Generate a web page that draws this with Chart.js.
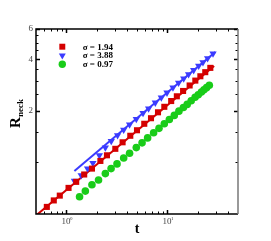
<!DOCTYPE html>
<html>
<head>
<meta charset="utf-8">
<script src="https://cdn.jsdelivr.net/npm/chart.js@4.4.1/dist/chart.umd.min.js"></script>
<style>
  html, body { margin: 0; padding: 0; background: #fff; }
  #c { display: block; }
</style>
</head>
<body>
<canvas id="c" width="271" height="241"></canvas>
<script>
// sigma = 1.94 (red squares)
const tRed = [0.64, 0.75, 0.86, 1.05, 1.25, 1.5, 1.79, 2.17, 2.52, 3.05, 3.6, 4.29, 5.0, 5.9, 6.88, 8.07, 9.32, 10.9, 12.4, 14.3, 16.6, 18.9, 21.2, 23.7, 26.6];
const rRed = [0.55, 0.6, 0.64, 0.71, 0.77, 0.85, 0.92, 1.02, 1.1, 1.2, 1.31, 1.43, 1.54, 1.68, 1.81, 1.96, 2.11, 2.28, 2.43, 2.61, 2.81, 3.0, 3.18, 3.36, 3.56];
// sigma = 3.88 (blue triangles)
const tBlue = [1.2, 1.4, 1.62, 1.83, 2.12, 2.43, 2.78, 3.21, 3.69, 4.22, 4.92, 5.74, 6.51, 7.59, 8.7, 9.91, 11.35, 12.9, 14.5, 16.2, 18.2, 20.4, 22.5, 25.0, 28.3];
const rBlue = [0.78, 0.84, 0.92, 0.99, 1.1, 1.22, 1.33, 1.44, 1.55, 1.66, 1.79, 1.94, 2.06, 2.23, 2.39, 2.55, 2.73, 2.91, 3.08, 3.26, 3.45, 3.66, 3.84, 4.05, 4.31];
// sigma = 0.97 (green circles)
const tGreen = [1.35, 1.54, 1.79, 2.08, 2.43, 2.77, 3.17, 3.69, 4.22, 4.92, 5.61, 6.37, 7.3, 8.26, 9.32, 10.45, 11.7, 13.0, 14.4, 15.7, 17.2, 18.8, 20.2, 21.7, 23.0, 24.4, 26.0];
const rGreen = [0.63, 0.68, 0.74, 0.79, 0.86, 0.92, 0.98, 1.06, 1.13, 1.22, 1.3, 1.39, 1.49, 1.58, 1.68, 1.78, 1.88, 1.99, 2.09, 2.18, 2.29, 2.4, 2.48, 2.57, 2.65, 2.73, 2.82];
// fitted power-law lines
const fitRedT = [0.5, 29];
const fitRedR = [0.49, 3.65];
const fitBlueT = [1.2, 29.8];
const fitBlueR = [0.89, 4.41];

const legendLabels = ['σ = 1.94', 'σ = 3.88', 'σ = 0.97'];
const xMajorTicks = [1, 10];
const xMinorTicks = [0.6, 0.7, 0.8, 0.9, 2, 3, 4, 5, 6, 7, 8, 9, 20, 30, 40];
const yMajorTicks = [2, 4, 6];
const yMinorTicks = [1, 1.5, 2.5, 3, 3.5, 4.5, 5, 5.5];

const RED = '#d40000', BLUE = '#3b3bff', GREEN = '#19cc19';
const SERIF = '"Liberation Serif", "DejaVu Serif", serif';

const pts = (xs, ys) => xs.map((x, i) => ({ x: x, y: ys[i] }));

function marker(ctx, style, x, y, r) {
  ctx.beginPath();
  if (style === 'rect') {
    ctx.rect(x - r * 0.71, y - r * 0.71, r * 1.42, r * 1.42);
  } else if (style === 'tri') {
    ctx.moveTo(x - r * 0.87, y - r * 0.5);
    ctx.lineTo(x + r * 0.87, y - r * 0.5);
    ctx.lineTo(x, y + r);
    ctx.closePath();
  } else {
    ctx.arc(x, y, r, 0, Math.PI * 2);
  }
  ctx.fill();
}

const frame = {
  id: 'frame',
  afterDraw(chart) {
    const ctx = chart.ctx, a = chart.chartArea;
    const xs = chart.scales.x, ys = chart.scales.y;
    ctx.save();

    // tick marks, pointing inward on all four sides
    ctx.strokeStyle = '#000';
    ctx.lineWidth = 1;
    const xt = (list, len) => list.forEach(v => {
      const p = Math.round(xs.getPixelForValue(v)) + 0.5;
      ctx.beginPath();
      ctx.moveTo(p, a.bottom); ctx.lineTo(p, a.bottom - len);
      ctx.moveTo(p, a.top); ctx.lineTo(p, a.top + len);
      ctx.stroke();
    });
    const yt = (list, len) => list.forEach(v => {
      const p = Math.round(ys.getPixelForValue(v)) + 0.5;
      ctx.beginPath();
      ctx.moveTo(a.left, p); ctx.lineTo(a.left + len, p);
      ctx.moveTo(a.right, p); ctx.lineTo(a.right - len, p);
      ctx.stroke();
    });
    xt(xMinorTicks, 2.5); yt(yMinorTicks, 2.5);
    ctx.lineWidth = 1.5;
    xt(xMajorTicks, 4); yt(yMajorTicks, 4);

    // frame
    ctx.lineWidth = 1.5;
    ctx.strokeStyle = '#000';
    ctx.beginPath();
    ctx.moveTo(a.right, a.top); ctx.lineTo(a.left, a.top);
    ctx.lineTo(a.left, a.bottom); ctx.lineTo(a.right, a.bottom);
    ctx.stroke();
    ctx.strokeStyle = '#777';
    ctx.beginPath();
    ctx.moveTo(a.right, a.top); ctx.lineTo(a.right, a.bottom);
    ctx.stroke();

    // tick labels
    ctx.fillStyle = '#444';
    ctx.font = '9px ' + SERIF;
    ctx.textAlign = 'right';
    ctx.textBaseline = 'middle';
    yMajorTicks.forEach(v => ctx.fillText(String(v), a.left - 3, ys.getPixelForValue(v)));
    xMajorTicks.forEach(v => {
      const p = xs.getPixelForValue(v);
      ctx.textAlign = 'left';
      ctx.textBaseline = 'alphabetic';
      ctx.font = '9px ' + SERIF;
      ctx.fillText('10', p - 5, a.bottom + 10);
      ctx.font = '5px ' + SERIF;
      ctx.fillText(String(Math.round(Math.log10(v))), p + 3.5, a.bottom + 6);
    });

    // axis titles
    ctx.fillStyle = '#000';
    ctx.font = 'bold 14px ' + SERIF;
    ctx.textAlign = 'center';
    ctx.textBaseline = 'alphabetic';
    ctx.fillText('t', (a.left + a.right) / 2, a.bottom + 19);

    ctx.save();
    ctx.translate(20, 113.5);
    ctx.rotate(-Math.PI / 2);
    ctx.textAlign = 'left';
    ctx.font = 'bold 15px ' + SERIF;
    const wR = ctx.measureText('R').width;
    ctx.font = 'bold 9px ' + SERIF;
    const wN = ctx.measureText('neck').width;
    const x0 = -(wR + wN) / 2;
    ctx.font = 'bold 15px ' + SERIF;
    ctx.fillText('R', x0, 0);
    ctx.font = 'bold 9px ' + SERIF;
    ctx.fillText('neck', x0 + wR, 3);
    ctx.restore();

    // legend
    const styles = ['rect', 'tri', 'circle'];
    const cols = [RED, BLUE, GREEN];
    const rads = [4.2, 4.0, 3.7];
    const ly = [46.7, 55.5, 64.3];
    ctx.font = 'bold 9px ' + SERIF;
    ctx.textAlign = 'left';
    ctx.textBaseline = 'middle';
    legendLabels.forEach((lab, i) => {
      ctx.fillStyle = cols[i];
      marker(ctx, styles[i], 62.3, ly[i], rads[i]);
      ctx.fillStyle = '#000';
      ctx.fillText(lab, 82.7, ly[i] + 0.5);
    });

    ctx.restore();
  }
};

new Chart(document.getElementById('c'), {
  type: 'scatter',
  data: {
    datasets: [
      { data: pts(tRed, rRed), pointStyle: 'rect', pointRadius: 4.3, backgroundColor: RED, borderWidth: 0 },
      { data: pts(tBlue, rBlue), pointStyle: 'triangle', rotation: 180, pointRadius: 4.2, backgroundColor: BLUE, borderWidth: 0 },
      { data: pts(tGreen, rGreen), pointStyle: 'circle', pointRadius: 3.8, backgroundColor: GREEN, borderWidth: 0 },
      { data: pts(fitRedT, fitRedR), showLine: true, pointRadius: 0, borderColor: RED, borderWidth: 2 },
      { data: pts(fitBlueT, fitBlueR), showLine: true, pointRadius: 0, borderColor: BLUE, borderWidth: 2 }
    ]
  },
  options: {
    responsive: false,
    animation: false,
    events: [],
    layout: { padding: { left: 0, right: 33, top: 29, bottom: 0 } },
    plugins: { legend: { display: false }, tooltip: { enabled: false } },
    scales: {
      x: {
        type: 'logarithmic', min: 0.5, max: 50,
        grid: { display: false }, border: { display: false },
        ticks: { display: false },
        afterFit: s => { s.height = 27; }
      },
      y: {
        type: 'logarithmic', min: 0.5, max: 6,
        grid: { display: false }, border: { display: false },
        ticks: { display: false },
        afterFit: s => { s.width = 36; }
      }
    }
  },
  plugins: [frame]
});
</script>
</body>
</html>
